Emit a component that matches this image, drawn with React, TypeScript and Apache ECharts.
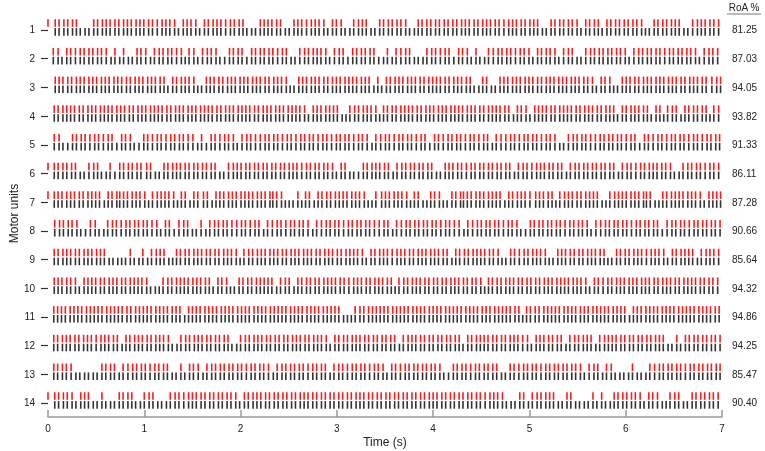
import { useEffect, useRef } from 'react';
import * as echarts from 'echarts';

const FONT = 'Liberation Sans, Arial, Helvetica, sans-serif';

const motorUnits = [1, 2, 3, 4, 5, 6, 7, 8, 9, 10, 11, 12, 13, 14];
const roaPercent = ['81.25', '87.03', '94.05', '93.82', '91.33', '86.11', '87.28', '90.66', '85.64', '94.32', '94.86', '94.25', '85.47', '90.40'];
const timeTicks = [0, 1, 2, 3, 4, 5, 6, 7];

// first reference (black) discharge of each unit, seconds
const startTimes = [0.075, 0.055, 0.075, 0.065, 0.065, 0.065, 0.065, 0.07, 0.065, 0.065, 0.06, 0.06, 0.06, 0.07];

// inter-spike intervals of the reference (black) trains, in units of 10 ms
const isiRow1 = '4545445454 5445454454 4545544545 4454545445 5454454544 4545454455 4454545454 5445454545 4545445454 5454544545 4454554454 5445454545 4545454454 5454545445 4545445455 4454545454 5454454545';
const isiRow2 = '5454554545 4554545454 5545454554 4545545455 4545545454 5545455454 4545545545 4545545455 4545454554 5545454545 5454554545 4545455454 5545454545 4554545455 4545454554 5454545545';
const isiRow3 = '4454544544 5445445454 4544544545 4454454454 5445445445 4544544544 5445454454 4454454454 5445445454 4454544544 5445454454 4544545445 4454454545 4544544545 4454454454 5445465454 4544544545';
const isiRow4 = '4544454544 5444544545 4454445454 4544544454 5445444545 4454454445 4544544454 4545445444 5454445454 4544544454 4545444545 4454544454 5444545445 4544454544 5445444545 4454544454 4545444545';
const isiRow5 = '5455454554 5545545455 4554554545 5545545545 4554555454 5545545455 4554545545 5455455454 5545545545 4554554545 5545545455 4554554545 5545454554 5545545545 4554554545 5545';
const isiRow6 = '4545454554 4545545454 6454545445 4545454545 5445454545 4545445545 4545454545 5454454545 4545454545 4454554545 4545454545 5445454545 4545454545 4545545445 4545454545 5454454545 4545';
const isiRow7 = '4454454544 4544534454 4544544454 4454464544 4544544454 4534544454 4454454544 4544544464 4544544454 4454454534 4544544454 4544564454 4454454544 4544544454 4534544454 4454454544 4544544454';
const isiRow8 = '5454545554 5454554545 4554545554 5455454545 5545545455 4554545545 5454554545 4555454554 5454545545 5545545454 5545455454 5454554545 4555454545 5454545554 5455454545 5454';
const isiRow9 = '4544545445 4454544545 4545445444 5454454545 4454454544 5445454454 4545445454 4454545445 5445454454 4545445454 4454544545 5454454454 4545454454 4454545445 5445454544 4545445454 4454';
const isiRow10 = '4454545444 5454454544 4545445454 4454454454 5445454544 4454545445 4545444545 5445454454 4454544545 4545445454 5444545445 4545454454 4454454545 5454454454 4545445454 4454545445 454';
const isiRow11 = '4445444544 4454444545 4444544454 4544445444 5444544454 4454444544 4544454444 5444545444 4454444544 4544454444 5444544544 4454444545 4444544454 4544445444 5444544454 4454444544 4544454444 54445';
const isiRow12 = '4544545445 5445454454 4545445454 5454454545 4454545445 4545454454 5445454545 4454545454 5454454545 4545445454 4454545445 5454454545 4545445454 4454545454 5445454545 4545454454 4545';
const isiRow13 = '4545545454 5454545545 4554545454 5455454545 4545545455 4545454554 5454545545 4554545455 4545454545 5454554545 4545455454 5545454545 4554545454 5454545545 4545545454 5454';
const isiRow14 = '4545454454 5454545445 4545454545 5445454545 4545454454 5454545445 4545454545 4454545454 5454545445 4545454545 5445454545 4545445454 5454545454 4545454545 5445454545 4545454454 5454';

const isiCodes = [isiRow1, isiRow2, isiRow3, isiRow4, isiRow5, isiRow6, isiRow7, isiRow8, isiRow9, isiRow10, isiRow11, isiRow12, isiRow13, isiRow14];

// time windows (s) where the decomposed (red) train misses reference discharges
const gapsRow1 = [[0.32, 0.45], [1.33, 1.38], [1.54, 1.59], [2.03, 2.09], [2.11, 2.17], [2.45, 2.51], [2.88, 2.94], [3.07, 3.14], [3.33, 3.44], [3.74, 3.82], [5.13, 5.2], [5.51, 5.58], [5.72, 5.79], [6.19, 6.26], [6.6, 6.67]];
const gapsRow2 = [[0.12, 0.18], [0.61, 0.68], [0.74, 0.78], [0.83, 0.92], [1.04, 1.09], [1.39, 1.44], [1.54, 1.58], [1.76, 1.86], [2.02, 2.08], [2.16, 2.2], [2.51, 2.58], [2.89, 2.93], [3.09, 3.13], [3.41, 3.45], [3.47, 3.52], [3.57, 3.61], [3.79, 3.92], [4.17, 4.23], [4.38, 4.43], [4.48, 4.56], [5.02, 5.07], [5.29, 5.34], [5.49, 5.55], [6.02, 6.07], [6.76, 6.8]];
const gapsRow3 = [[1.22, 1.27], [1.54, 1.6], [2.49, 2.59], [3.36, 3.42], [3.44, 3.48], [4.41, 4.51], [4.59, 4.67], [5.68, 5.73], [5.87, 5.94]];
const gapsRow4 = [[2.69, 2.74], [3.01, 3.1], [3.43, 3.47], [4.83, 4.87], [4.98, 5.03], [5.89, 5.94], [6.24, 6.28], [6.39, 6.43], [6.54, 6.61], [6.86, 6.9]];
const gapsRow5 = [[0.12, 0.24], [0.67, 0.73], [0.86, 0.97], [1.52, 1.58], [1.64, 1.68], [1.94, 2.0], [3.34, 3.38], [3.83, 3.87], [3.96, 4.0], [4.6, 4.65], [5.3, 5.36], [6.1, 6.15]];
const gapsRow6 = [[0.32, 0.42], [0.55, 0.62], [0.68, 0.73], [1.09, 1.16], [1.76, 1.84], [2.98, 3.03], [3.13, 3.27], [3.55, 3.62], [4.02, 4.09], [4.8, 4.86], [5.35, 5.42], [5.9, 5.95], [6.5, 6.56]];
const gapsRow7 = [[0.55, 0.59], [1.03, 1.08], [1.32, 1.37], [1.44, 1.51], [1.56, 1.61], [1.68, 1.73], [2.43, 2.55], [2.6, 2.65], [2.75, 2.79], [3.31, 3.37], [3.74, 3.79], [3.89, 3.95], [4.1, 4.15], [4.7, 4.75], [5.25, 5.3], [5.75, 5.82], [6.3, 6.36], [6.8, 6.85]];
const gapsRow8 = [[0.32, 0.42], [0.5, 0.58], [1.14, 1.19], [1.27, 1.32], [1.5, 1.56], [1.61, 1.66], [2.2, 2.25], [2.72, 2.77], [3.53, 3.58], [4.3, 4.35], [4.9, 4.96], [5.6, 5.65], [6.35, 6.4]];
const gapsRow9 = [[0.6, 0.68], [0.72, 0.83], [0.86, 0.95], [1.02, 1.06], [1.23, 1.3], [1.99, 2.03], [3.29, 3.34], [4.15, 4.2], [4.7, 4.78], [5.2, 5.25], [5.8, 5.88], [6.4, 6.45], [6.7, 6.76]];
const gapsRow10 = [[0.31, 0.37], [1.06, 1.16], [1.68, 1.73], [1.87, 1.94], [2.37, 2.41], [2.51, 2.56], [3.57, 3.62], [4.5, 4.55], [5.6, 5.65]];
const gapsRow11 = [[1.39, 1.44], [3.06, 3.16], [4.9, 4.95], [6.0, 6.05]];
const gapsRow12 = [[0.76, 0.8], [1.29, 1.35], [1.91, 1.97], [2.9, 2.95], [3.6, 3.65], [4.3, 4.35], [5.0, 5.04], [5.36, 5.4], [5.64, 5.7], [6.42, 6.51], [6.53, 6.6]];
const gapsRow13 = [[0.27, 0.34], [0.37, 0.43], [0.47, 0.53], [0.72, 0.76], [1.29, 1.35], [1.42, 1.46], [1.57, 1.62], [2.3, 2.36], [2.9, 2.95], [3.5, 3.56], [4.1, 4.17], [4.7, 4.75], [5.54, 5.6], [5.73, 5.77], [5.88, 5.94], [5.97, 6.03], [6.11, 6.22]];
const gapsRow14 = [[0.27, 0.32], [0.43, 0.54], [0.59, 0.72], [0.88, 0.98], [1.14, 1.19], [1.23, 1.27], [1.96, 2.0], [4.72, 4.87], [4.95, 4.99], [5.28, 5.34], [5.45, 5.61], [5.68, 5.73], [5.76, 5.84], [6.18, 6.23], [6.35, 6.43], [6.59, 6.65]];

const redGaps = [gapsRow1, gapsRow2, gapsRow3, gapsRow4, gapsRow5, gapsRow6, gapsRow7, gapsRow8, gapsRow9, gapsRow10, gapsRow11, gapsRow12, gapsRow13, gapsRow14];

// decomposed discharges with no reference counterpart (s)
const redExtras = [[0.0], [], [], [], [], [0.0], [0.0], [], [], [], [], [], [], [0.0]];

const T_END = 6.985;

function buildData() {
  const black: number[][] = [];
  const red: number[][] = [];
  isiCodes.forEach((code, i) => {
    const row = motorUnits[i];
    const digits = code.replace(/\D/g, '');
    let t = startTimes[i];
    const times: number[] = [];
    for (let j = 0; j <= digits.length; j++) {
      if (t > T_END) break;
      times.push(t);
      if (j < digits.length) t += Number(digits[j]) * 0.01;
    }
    const gaps = redGaps[i];
    times.forEach((tt) => {
      black.push([tt, row]);
      const missed = gaps.some(([a, b]) => tt >= a && tt <= b);
      if (!missed) red.push([tt, row]);
    });
    redExtras[i].forEach((tt) => red.push([tt, row]));
  });
  return { black, red };
}

export default function App() {
  const ref = useRef<HTMLDivElement>(null);
  useEffect(() => {
    if (!ref.current) return;
    const chart = echarts.init(ref.current, null, { renderer: 'svg' });
    const { black, red } = buildData();
    const makeRender = (dy: number, h: number, color: string) => (params: any, api: any) => {
      const p = api.coord([api.value(0), api.value(1)]);
      return {
        type: 'rect',
        shape: { x: p[0] - 0.8, y: p[1] + dy, width: 1.6, height: h },
        style: { fill: color },
      };
    };
    const yMin = 0.303;
    const yMax = 14.488;
    chart.setOption({
      animation: false,
      textStyle: { fontFamily: FONT },
      grid: { left: 48, right: 43, top: 10, bottom: 34, containLabel: false, outerBoundsMode: 'none' },
      xAxis: {
        type: 'value',
        min: 0,
        max: 7,
        interval: 1,
        axisLine: { show: true, lineStyle: { color: '#999', width: 1.5 } },
        axisTick: { show: true, inside: true, length: 7, lineStyle: { color: '#999', width: 1.5 } },
        axisLabel: { fontSize: 10, margin: 6, color: '#222', fontFamily: FONT, customValues: timeTicks },
        splitLine: { show: false },
        name: 'Time (s)',
        nameLocation: 'middle',
        nameGap: 19,
        nameMoveOverlap: false,
        nameTextStyle: { fontSize: 12, color: '#222', fontFamily: FONT },
      },
      yAxis: [
        {
          type: 'value',
          inverse: true,
          min: yMin,
          max: yMax,
          position: 'left',
          offset: 3,
          axisLine: { show: false },
          axisTick: { show: true, length: 7, customValues: motorUnits, lineStyle: { color: '#333', width: 1.2 } },
          axisLabel: { customValues: motorUnits, margin: 10, fontSize: 10, color: '#222', fontFamily: FONT },
          splitLine: { show: false },
          name: 'Motor units',
          nameLocation: 'middle',
          nameGap: 25,
          nameMoveOverlap: false,
          nameTextStyle: { fontSize: 12, color: '#222', fontFamily: FONT },
        },
        {
          type: 'value',
          inverse: true,
          min: yMin,
          max: yMax,
          position: 'right',
          axisLine: { show: false },
          axisTick: { show: false },
          axisLabel: {
            customValues: motorUnits,
            margin: 10,
            fontSize: 10,
            color: '#222',
            fontFamily: FONT,
            formatter: (v: number) => roaPercent[Math.round(v) - 1] ?? '',
          },
          splitLine: { show: false },
        },
      ],
      graphic: [
        { type: 'text', x: 744, y: 7, style: { text: 'RoA %', fontSize: 10, fill: '#222', fontFamily: FONT, align: 'center', verticalAlign: 'middle' } },
        { type: 'line', shape: { x1: 727, y1: 14, x2: 761, y2: 14 }, style: { stroke: '#777', lineWidth: 1 } },
      ],
      series: [
        {
          type: 'custom',
          name: 'Reference',
          data: black,
          encode: { x: 0, y: 1 },
          renderItem: makeRender(-1.9, 7.6, '#333333'),
          clip: false,
          silent: true,
        },
        {
          type: 'custom',
          name: 'Decomposed',
          data: red,
          encode: { x: 0, y: 1 },
          renderItem: makeRender(-10.8, 7.6, '#ff1a1a'),
          clip: false,
          silent: true,
        },
      ],
    });
    return () => chart.dispose();
  }, []);
  return <div ref={ref} style={{ position: 'fixed', left: 0, top: 0, width: 765, height: 451 }} />;
}
